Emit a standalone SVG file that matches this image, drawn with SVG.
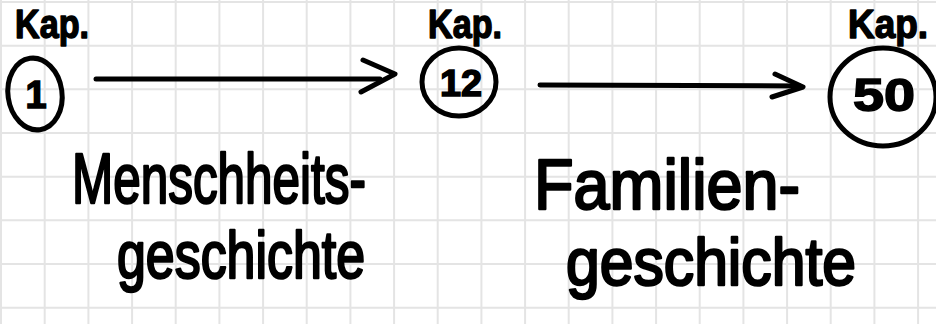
<svg xmlns="http://www.w3.org/2000/svg" width="936" height="324" viewBox="0 0 936 324">
  <style>
    .grid { stroke: #e4e4e4; stroke-width: 2; fill: none; }
    .ink { stroke: #000; stroke-width: 5; fill: none; stroke-linecap: round; stroke-linejoin: round; }
    .kap { font-family: "Liberation Sans", "DejaVu Sans", sans-serif; font-weight: bold; font-size: 40px; fill: #000; stroke: #000; stroke-width: 1.5; stroke-linejoin: round; }
    .num { font-family: "Liberation Sans", "DejaVu Sans", sans-serif; font-weight: bold; fill: #000; stroke: #000; stroke-width: 1.5; text-anchor: middle; }
    .hand { font-family: "Liberation Sans", "DejaVu Sans", sans-serif; font-size: 66px; fill: #000; stroke: #000; stroke-width: 2.5; stroke-linejoin: round; }
    .big { font-size: 70px; }
  </style>
  <rect width="936" height="324" fill="#ffffff"/>
  <g id="grid">
    <path class="grid" d="M1 0V324M44.7 0V324M88.4 0V324M132.1 0V324M175.7 0V324M219.4 0V324M263.1 0V324M306.7 0V324M350.4 0V324M394.1 0V324M437.7 0V324M481.4 0V324M525.1 0V324M568.7 0V324M612.4 0V324M656.1 0V324M699.7 0V324M743.4 0V324M787.1 0V324M830.7 0V324M874.4 0V324M918.1 0V324"/>
    <path class="grid" d="M0 2H936M0 45.7H936M0 89.3H936M0 133H936M0 176.7H936M0 220.3H936M0 264H936M0 307.7H936"/>
  </g>
  <g id="connectors">
    <g id="edge-1-12">
      <path class="ink" d="M96 79 L380 79"/>
      <path class="ink" d="M363 60 L395 74 L361 92"/>
    </g>
    <g id="edge-12-50">
      <path class="ink" d="M540 85 L800 86"/>
      <path class="ink" d="M775 74 L803 87 L772 97"/>
    </g>
  </g>
  <g id="node-1">
    <text class="kap" x="15" y="38" textLength="74" lengthAdjust="spacingAndGlyphs">Kap.</text>
    <ellipse class="ink" cx="35" cy="94" rx="27" ry="36" transform="rotate(-8 35 94)"/>
    <text class="num" x="36" y="108" font-size="38">1</text>
  </g>
  <g id="node-12">
    <text class="kap" x="428" y="38" textLength="74" lengthAdjust="spacingAndGlyphs">Kap.</text>
    <ellipse class="ink" cx="459" cy="82" rx="37" ry="34"/>
    <text class="num" x="461" y="96" font-size="36" textLength="42" lengthAdjust="spacingAndGlyphs">12</text>
  </g>
  <g id="node-50">
    <text class="kap" x="848" y="38" textLength="80" lengthAdjust="spacingAndGlyphs">Kap.</text>
    <ellipse class="ink" cx="883" cy="97" rx="53" ry="49"/>
    <text class="num" x="884" y="111" font-size="46" textLength="62" lengthAdjust="spacingAndGlyphs">50</text>
  </g>
  <g id="label-menschheitsgeschichte">
    <text class="hand big" x="72" y="203" textLength="294" lengthAdjust="spacingAndGlyphs">Menschheits-</text>
    <text class="hand" x="117" y="278" textLength="248" lengthAdjust="spacingAndGlyphs">geschichte</text>
  </g>
  <g id="label-familiengeschichte">
    <text class="hand big" x="534" y="209" textLength="266" lengthAdjust="spacingAndGlyphs">Familien-</text>
    <text class="hand" x="566" y="285" textLength="290" lengthAdjust="spacingAndGlyphs">geschichte</text>
  </g>
</svg>
